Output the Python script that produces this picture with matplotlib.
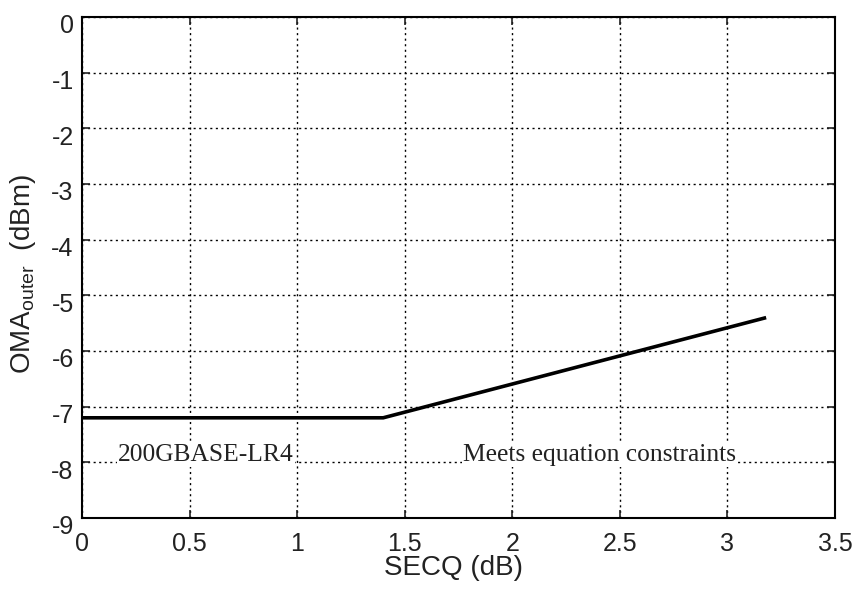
import matplotlib.pyplot as plt
import matplotlib.transforms as mtransforms

# SECQ (dB) vs OMA_outer (dBm) limit line
secq = [0.0, 1.4, 3.18]
oma_outer = [-7.2, -7.2, -5.4]

x_ticks = [0, 0.5, 1, 1.5, 2, 2.5, 3, 3.5]
y_ticks = [0, -1, -2, -3, -4, -5, -6, -7, -8, -9]

plt.rcParams['font.family'] = ['Liberation Sans', 'DejaVu Sans']
plt.rcParams['axes.unicode_minus'] = False

fig = plt.figure(figsize=(8.55, 5.9), dpi=100)
ax = fig.add_axes([82/855, 1-518/590, (835-82)/855, (518-17)/590])

ax.plot(secq, oma_outer, color='black', linewidth=2.6, solid_capstyle='butt')

ax.set_xlim(0, 3.5)
ax.set_ylim(-9, 0)
ax.set_xticks(x_ticks)
ax.set_xticklabels([f"{t:g}" for t in x_ticks])
ax.set_yticks(y_ticks)
ax.grid(True, color='black', linestyle=(0, (1.5, 2.5)), linewidth=1.0)
ax.tick_params(direction='in', top=True, right=True, length=6, width=1.2,
               labelsize=18, colors='#222222')
ax.tick_params(axis='x', pad=10)
ax.tick_params(axis='y', pad=6)
for s in ax.spines.values():
    s.set_linewidth(1.5)

# y tick labels sit slightly below their ticks in the original
offset = mtransforms.ScaledTranslation(0, -5/72, fig.dpi_scale_trans)
for lab in ax.get_yticklabels():
    lab.set_transform(lab.get_transform() + offset)

ax.set_xlabel('SECQ (dB)', fontsize=20, color='#222222')
ax.xaxis.set_label_coords(0.493, -0.074)
ax.set_ylabel(r'OMA$_{\mathregular{outer}}$  (dBm)', fontsize=20, color='#222222')
ax.yaxis.set_label_coords(-0.058, 0.486)

box = dict(facecolor='white', edgecolor='none', pad=1)
ax.text(0.167, -7.86, '200GBASE-LR4', family='Liberation Serif', fontsize=18.4,
        va='center', ha='left', color='#222222', bbox=box)
ax.text(1.77, -7.86, 'Meets equation constraints', family='Liberation Serif', fontsize=18.4,
        va='center', ha='left', color='#222222', bbox=box)

fig.savefig('out.png', dpi=100)
